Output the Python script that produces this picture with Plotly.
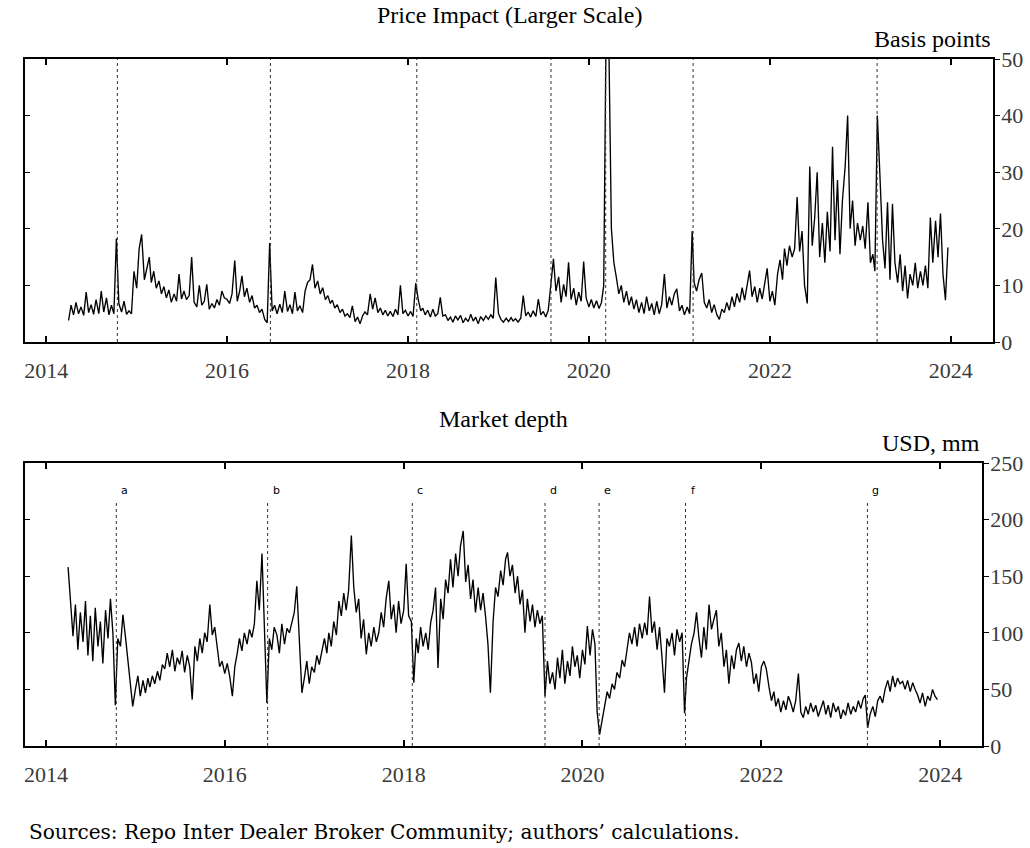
import plotly.graph_objects as go

# ---------------- data (3 readings per month: days 1, 11, 21) ----------------
pi_2014 = [3.8, 6.5, 4.8, 7.0, 5.0, 6.2, 4.7, 8.8, 5.2, 6.6, 4.9, 7.5, 5.0, 9.0, 5.3,
           7.8, 4.8, 6.5, 5.0, 18.3, 6.8, 5.3, 7.2, 4.9, 5.5, 5.0, 12.5]
pi_2015 = [9.5, 16.5, 19.0, 11.0, 13.0, 15.0, 10.5, 12.5, 9.5, 10.8, 8.5, 9.8,
           7.8, 9.2, 7.0, 8.5, 7.2, 12.0, 7.6, 9.0, 7.5, 8.2, 15.0, 7.0,
           6.2, 10.0, 6.5, 7.2, 10.2, 5.8, 6.8, 6.0, 7.5, 6.5, 9.0, 7.8]
pi_2016 = [7.5, 6.8, 8.5, 14.4, 7.2, 9.0, 11.7, 8.0, 9.5, 7.0, 8.2, 6.0,
           6.5, 5.2, 5.8, 4.0, 3.4, 17.5, 5.5, 6.5, 5.0, 6.7, 5.2, 9.0,
           5.4, 6.6, 5.0, 8.8, 5.5, 6.4, 5.2, 9.0, 10.5, 11.0, 13.7, 9.5]
pi_2017 = [10.8, 8.5, 9.6, 7.5, 8.2, 6.8, 7.4, 6.0, 6.6, 5.2, 5.8, 4.6,
           5.0, 4.3, 6.4, 3.6, 4.4, 3.2, 4.6, 5.3, 4.8, 8.5, 5.8, 7.8,
           5.2, 6.0, 4.8, 5.6, 4.6, 5.4, 4.5, 5.8, 4.8, 10.0, 5.0, 5.6]
pi_2018 = [4.6, 5.4, 4.5, 10.4, 7.5, 5.5, 6.0, 4.8, 5.6, 4.4, 5.8, 4.6,
           5.0, 7.9, 4.6, 4.8, 3.8, 4.4, 3.5, 4.6, 3.9, 4.7, 3.4, 4.2,
           3.6, 4.9, 3.7, 4.4, 3.2, 4.5, 3.8, 4.6, 4.0, 4.8, 4.2, 11.4]
pi_2019 = [5.0, 4.0, 3.5, 4.2, 3.6, 4.3, 3.7, 4.1, 3.5, 4.2, 8.2, 4.6,
           5.3, 4.4, 5.5, 4.5, 7.6, 4.8, 5.4, 4.4, 5.6, 10.5, 14.7, 9.0,
           11.5, 7.0, 10.2, 8.0, 14.1, 7.5, 9.5, 6.5, 8.8, 7.2, 14.2, 7.8]
pi_2020 = [6.2, 7.5, 6.0, 7.3, 5.9, 7.0, 10.0, 58.0, 55.0, 20.0, 14.0, 11.4,
           8.5, 10.0, 7.0, 9.0, 6.5, 8.0, 5.8, 7.5, 5.2, 7.0, 5.0, 8.0,
           5.5, 6.8, 4.8, 7.2, 5.0, 6.6, 12.0, 6.0, 8.0, 6.5, 8.5, 9.4]
pi_2021 = [5.5, 6.5, 4.8, 6.2, 5.0, 19.6, 10.5, 9.0, 11.0, 12.2, 7.0, 6.0,
           7.5, 5.2, 6.6, 4.8, 4.0, 5.8, 5.2, 7.0, 5.6, 8.0, 6.2, 8.6,
           7.0, 9.6, 7.4, 10.0, 12.6, 8.0, 9.8, 7.0, 9.5, 7.6, 10.0, 13.0]
pi_2022 = [7.2, 9.0, 6.5, 12.0, 14.5, 11.0, 16.5, 13.5, 17.0, 15.0, 16.5, 25.6,
           16.0, 19.6, 10.0, 6.8, 31.0, 17.0, 22.0, 30.0, 15.0, 21.0, 14.0, 23.0,
           16.0, 34.5, 18.0, 28.6, 15.5, 25.0, 31.0, 40.0, 20.0, 25.0, 17.0, 21.0]
pi_2023 = [18.0, 20.5, 16.5, 24.7, 14.0, 15.5, 12.5, 40.0, 29.8, 18.0, 13.0, 24.7,
           11.0, 24.4, 14.0, 10.5, 15.5, 9.0, 13.5, 7.7, 12.0, 10.0, 14.0, 9.5,
           12.5, 10.0, 13.5, 9.5, 22.0, 14.0, 21.4, 15.0, 22.7, 12.0, 7.4, 16.7]

md_2014 = [158, 124, 97, 125, 85, 118, 92, 128, 80, 115, 75, 122, 88, 110, 73,
           120, 95, 130, 100, 36, 95, 88, 116, 97, 75, 55, 35]
md_2015 = [50, 62, 44, 58, 47, 60, 52, 62, 55, 66, 58, 72,
           68, 82, 70, 85, 66, 78, 72, 84, 65, 80, 70, 41,
           88, 75, 95, 82, 100, 92, 125, 98, 105, 88, 70, 75]
md_2016 = [64, 73, 62, 44, 70, 82, 95, 84, 100, 90, 103, 96,
           108, 146, 120, 170, 110, 38, 95, 85, 105, 98, 82, 108,
           90, 104, 100, 110, 118, 141, 90, 47, 60, 75, 55, 70]
md_2017 = [65, 80, 72, 85, 95, 82, 100, 88, 110, 98, 128, 115,
           135, 120, 138, 186, 140, 118, 130, 95, 112, 81, 100, 88,
           105, 92, 100, 118, 105, 130, 146, 112, 125, 100, 128, 108]
md_2018 = [120, 161, 115, 110, 56, 95, 82, 105, 88, 100, 85, 109,
           120, 140, 69, 130, 112, 147, 135, 165, 140, 170, 150, 177,
           190, 145, 160, 130, 147, 118, 140, 120, 135, 115, 90, 47]
md_2019 = [110, 140, 132, 155, 142, 165, 171, 150, 160, 135, 150, 125,
           138, 100, 130, 110, 125, 105, 120, 108, 115, 44, 75, 55,
           65, 50, 78, 60, 85, 55, 75, 62, 88, 70, 80, 60]
md_2020 = [85, 72, 106, 80, 103, 90, 30, 10, 22, 35, 48, 42,
           55, 50, 65, 60, 76, 70, 85, 100, 90, 105, 88, 108,
           95, 109, 98, 132, 100, 110, 85, 105, 78, 47, 95, 88]
md_2021 = [100, 80, 103, 92, 100, 29, 60, 75, 90, 100, 118, 95,
           78, 105, 85, 125, 103, 112, 120, 88, 100, 70, 85, 55,
           80, 68, 85, 91, 75, 88, 70, 82, 74, 55, 64, 48]
md_2022 = [70, 75, 68, 52, 40, 48, 35, 42, 30, 40, 32, 44,
           38, 30, 40, 64, 30, 25, 35, 28, 38, 30, 36, 26,
           33, 40, 28, 36, 25, 38, 30, 35, 24, 32, 27, 38]
md_2023 = [28, 35, 30, 40, 33, 42, 45, 16, 28, 35, 26, 40,
           44, 38, 50, 58, 48, 62, 52, 60, 55, 57, 50, 58,
           48, 56, 50, 45, 38, 47, 35, 44, 40, 50, 44, 41]

years = [2014, 2015, 2016, 2017, 2018, 2019, 2020, 2021, 2022, 2023]
first_month = {2014: 4}
reading_days = [1, 11, 21]

event_dates = ["2014-10-15", "2016-06-24", "2018-02-05", "2019-08-01",
               "2020-03-09", "2021-02-25", "2023-03-10"]
event_labels = ["a", "b", "c", "d", "e", "f", "g"]

year_ticks = ["2014-01-01", "2016-01-01", "2018-01-01", "2020-01-01", "2022-01-01", "2024-01-01"]
year_tick_text = ["2014", "2016", "2018", "2020", "2022", "2024"]
pi_ticks = [0, 10, 20, 30, 40, 50]
md_ticks = [0, 50, 100, 150, 200, 250]

# ---------------- assemble ----------------
dates = []
for y in years:
    for m in range(first_month.get(y, 1), 13):
        for d in reading_days:
            dates.append(f"{y}-{m:02d}-{d:02d}")

price_impact = (pi_2014 + pi_2015 + pi_2016 + pi_2017 + pi_2018 + pi_2019 +
                pi_2020 + pi_2021 + pi_2022 + pi_2023)
market_depth = (md_2014 + md_2015 + md_2016 + md_2017 + md_2018 + md_2019 +
                md_2020 + md_2021 + md_2022 + md_2023)
assert len(dates) == len(price_impact) == len(market_depth)

W, H = 1030, 848
SERIF = "Liberation Serif, Times New Roman, serif"
TICKCOL = "#3a3a3a"

fig = go.Figure()
fig.add_trace(go.Scatter(x=dates, y=price_impact, mode="lines", xaxis="x", yaxis="y",
                         line=dict(color="black", width=1.35), showlegend=False, hoverinfo="skip"))
fig.add_trace(go.Scatter(x=dates, y=market_depth, mode="lines", xaxis="x2", yaxis="y2",
                         line=dict(color="black", width=1.35), showlegend=False, hoverinfo="skip"))
# invisible traces to activate left-side (inside) tick axes
fig.add_trace(go.Scatter(x=[None], y=[None], xaxis="x", yaxis="y3", showlegend=False, hoverinfo="skip"))
fig.add_trace(go.Scatter(x=[None], y=[None], xaxis="x2", yaxis="y4", showlegend=False, hoverinfo="skip"))

TICKFONT = dict(family=SERIF, size=22, color=TICKCOL)

xcommon = dict(type="date", range=["2013-10-07", "2024-06-20"], tickvals=year_ticks, ticktext=year_tick_text,
               ticks="inside", ticklen=6, tickwidth=1.5, tickcolor="black", showline=True, linecolor="black",
               linewidth=1.6, mirror="ticks", showgrid=False, zeroline=False, automargin=False,
               tickfont=TICKFONT, ticklabelstandoff=8)

ycommon = dict(side="right", ticks="outside", ticklen=5, tickwidth=1.2, tickcolor="black", showline=True,
               linecolor="black", linewidth=1.6, mirror=True, showgrid=False, zeroline=False, automargin=False,
               tickfont=TICKFONT, ticklabelstandoff=-3)

yleft = dict(ticks="inside", ticklen=5, tickwidth=1.2, tickcolor="black", showticklabels=False,
             showline=False, showgrid=False, zeroline=False, automargin=False)

top_dom = [1 - 342 / H, 1 - 59 / H]
bot_dom = [1 - 746 / H, 1 - 463 / H]

fig.update_layout(
    width=W, height=H, margin=dict(l=0, r=0, t=0, b=0, pad=0), autosize=False,
    paper_bgcolor="white", plot_bgcolor="white", showlegend=False,
    font=dict(family=SERIF, size=22, color="black"),
    xaxis=dict(domain=[25 / W, 993 / W], anchor="y", **xcommon),
    yaxis=dict(domain=top_dom, anchor="x", range=[0, 50], tickvals=pi_ticks, **ycommon),
    yaxis3=dict(overlaying="y", side="left", anchor="x", range=[0, 50], tickvals=pi_ticks, **yleft),
    xaxis2=dict(domain=[25 / W, 982 / W], anchor="y2", **xcommon),
    yaxis2=dict(domain=bot_dom, anchor="x2", range=[0, 250], tickvals=md_ticks, **ycommon),
    yaxis4=dict(overlaying="y2", side="left", anchor="x2", range=[0, 250], tickvals=md_ticks, **yleft),
)

# event lines
for d, lab in zip(event_dates, event_labels):
    fig.add_shape(type="line", xref="x", yref="y domain", x0=d, x1=d, y0=0, y1=1,
                  line=dict(color="#333333", width=1, dash="dot"))
    fig.add_shape(type="line", xref="x2", yref="y2 domain", x0=d, x1=d, y0=0, y1=0.869,
                  line=dict(color="#333333", width=1, dash="dot"))
    fig.add_annotation(x=d, xref="x2", y=0.869, yref="y2 domain", text=lab, showarrow=False,
                       xanchor="left", yanchor="bottom", xshift=3, yshift=1,
                       font=dict(family="DejaVu Sans", size=11, color="black"))

# titles and units
TITLE_FONT = dict(family=SERIF, size=24, color="black")
fig.add_annotation(x=0.5, xref="x domain", y=1 - 15 / H, yref="paper", text="Price Impact (Larger Scale)",
                   showarrow=False, xanchor="center", yanchor="middle", font=TITLE_FONT)
fig.add_annotation(x=1, xref="x domain", y=1 - 39 / H, yref="paper", text="Basis points",
                   showarrow=False, xanchor="right", yanchor="middle", font=TITLE_FONT)
fig.add_annotation(x=0.5, xref="x2 domain", y=1 - 419 / H, yref="paper", text="Market depth",
                   showarrow=False, xanchor="center", yanchor="middle", font=TITLE_FONT)
fig.add_annotation(x=1, xref="x2 domain", y=1 - 443 / H, yref="paper", text="USD, mm",
                   showarrow=False, xanchor="right", yanchor="middle", font=TITLE_FONT)
fig.add_annotation(x=27 / W, xref="paper", y=1 - 832 / H, yref="paper",
                   text="Sources: Repo Inter Dealer Broker Community; authors’ calculations.",
                   showarrow=False, xanchor="left", yanchor="middle",
                   font=dict(family="DejaVu Serif", size=20.1, color="black"))

fig.write_html("out.html")
